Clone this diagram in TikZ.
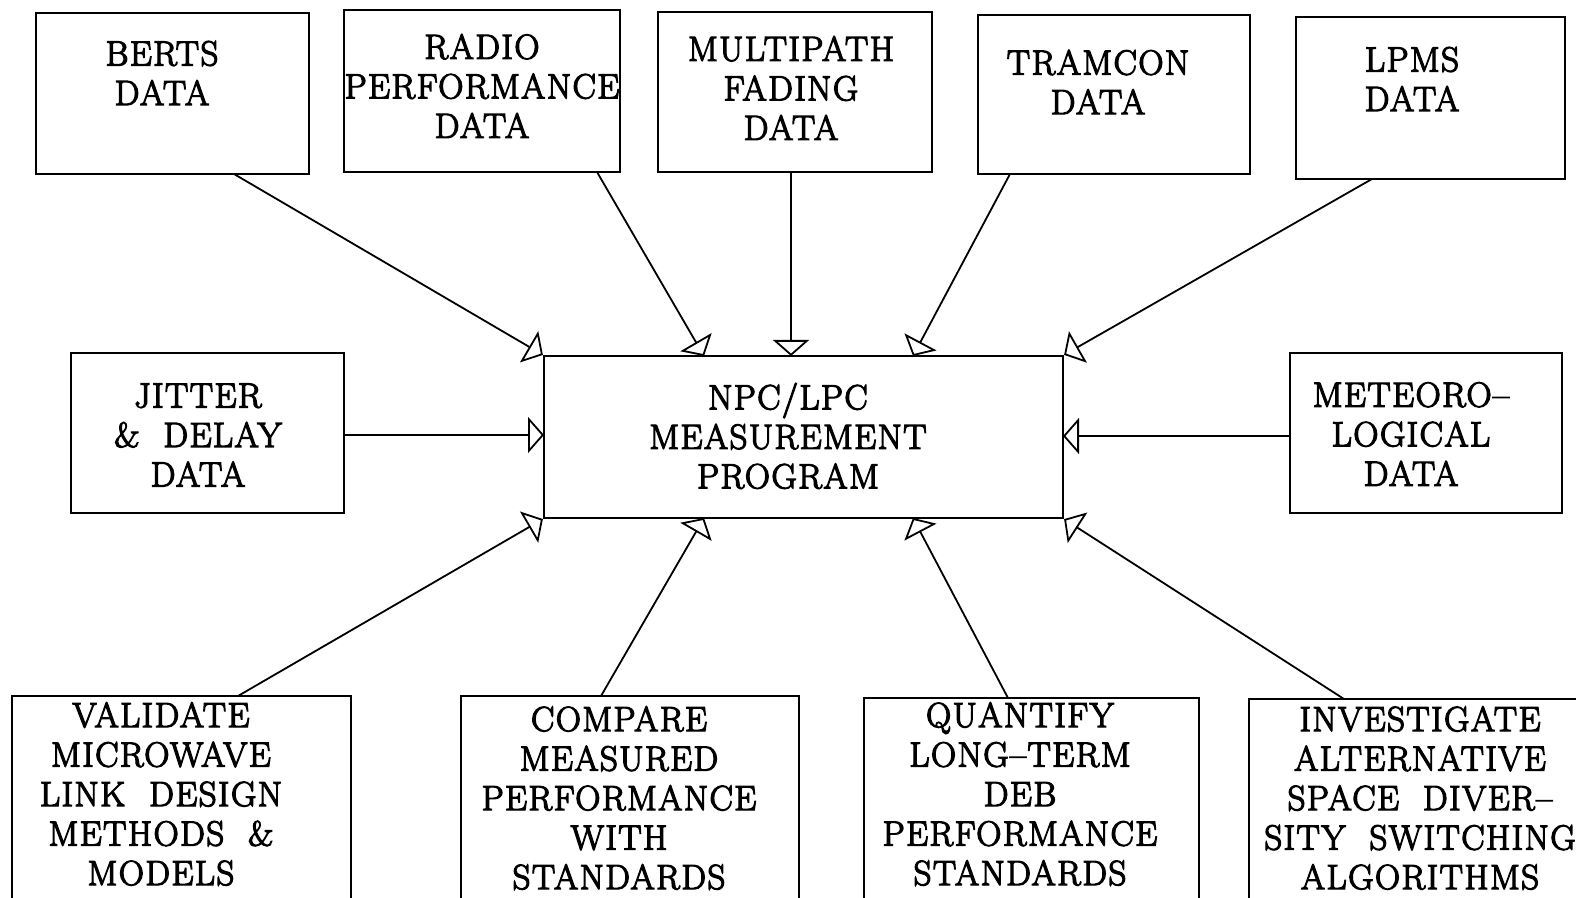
\documentclass[tikz,border=0pt]{standalone}
\usepackage{fontspec}
\setmainfont{Latin Modern Roman}[LetterSpace=4,WordSpace=2,FakeBold=3.5]
\usetikzlibrary{arrows.meta,fit}

\begin{document}
\begin{tikzpicture}[x=0.5pt,y=-0.5pt,
  box/.style={draw,line width=1.1pt,inner sep=0pt},
  lbl/.style={align=center,font=\fontsize{17.5}{19.75}\selectfont,inner sep=0pt},
  feed/.style={line width=0.9pt,-{Triangle[open,length=8pt,width=18pt]}}]
\useasboundingbox (0,0) rectangle (1576,898);
\clip (0,0) rectangle (1576,898);

% top row: data sources
\node[box,fit={(36,13) (309,174)}] (berts) {};
\node[lbl] (bertsT) at (162,73) {BERTS\\DATA};
\node[box,fit={(344,10) (620,172)}] (radio) {};
\node[lbl] (radioT) at (482,86) {RADIO\\PERFORMANCE\\DATA};
\node[box,fit={(658,12) (932,172)}] (multi) {};
\node[lbl] (multiT) at (791,88) {MULTIPATH\\FADING\\DATA};
\node[box,fit={(978,15) (1250,174)}] (tramcon) {};
\node[lbl] (tramconT) at (1098,82) {TRAMCON\\DATA};
\node[box,fit={(1296,17) (1565,179)}] (lpms) {};
\node[lbl] (lpmsT) at (1412,79) {LPMS\\DATA};

% middle row
\node[box,fit={(71,353) (344,513)}] (jitter) {};
\node[lbl] (jitterT) at (198,435) {JITTER\\\& DELAY\\DATA};
\node[box,fit={(544,356) (1063,518)}] (prog) {};
\node[lbl] (progT) at (788,436) {NPC/LPC\\MEASUREMENT\\PROGRAM};
\node[box,fit={(1290,353) (1562,513)}] (meteo) {};
\node[lbl] (meteoT) at (1411,434) {METEORO–\\LOGICAL\\DATA};

% bottom row: objectives
\node[box,fit={(12,696) (351,910)}] (valid) {};
\node[lbl] (validT) at (161,794) {VALIDATE\\MICROWAVE\\LINK DESIGN\\METHODS \&\\MODELS};
\node[box,fit={(461,696) (799,910)}] (compare) {};
\node[lbl] (compareT) at (619,798) {COMPARE\\MEASURED\\PERFORMANCE\\WITH\\STANDARDS};
\node[box,fit={(864,698) (1199,910)}] (quant) {};
\node[lbl] (quantT) at (1020,794) {QUANTIFY\\LONG–TERM\\DEB\\PERFORMANCE\\STANDARDS};
\node[box,fit={(1249,699) (1590,910)}] (invest) {};
\node[lbl] (investT) at (1420,798) {INVESTIGATE\\ALTERNATIVE\\SPACE DIVER–\\SITY SWITCHING\\ALGORITHMS};

% connector end points on box edges
\coordinate (bertsO) at (234,174);
\coordinate (radioO) at (597,172);
\coordinate (multiO) at (791,172);
\coordinate (tramconO) at (1010,174);
\coordinate (lpmsO) at (1372,179);
\coordinate (validO) at (238,696);
\coordinate (compareO) at (601,696);
\coordinate (quantO) at (1008,698);
\coordinate (investO) at (1344,699);
\coordinate (progNa) at (704,356);
\coordinate (progNb) at (791,356);
\coordinate (progNc) at (913,356);
\coordinate (progSa) at (704,518);
\coordinate (progSb) at (913,518);
\coordinate (jitterO) at (344,435);
\coordinate (meteoO) at (1290,436);
\coordinate (progW) at (544,435);
\coordinate (progE) at (1063,436);

\draw[feed] (bertsO) -- (prog.north west);
\draw[feed] (radioO) -- (progNa);
\draw[feed] (multiO) -- (progNb);
\draw[feed] (tramconO) -- (progNc);
\draw[feed] (lpmsO) -- (prog.north east);
\draw[feed] (jitterO) -- (progW);
\draw[feed] (meteoO) -- (progE);
\draw[feed] (validO) -- (prog.south west);
\draw[feed] (compareO) -- (progSa);
\draw[feed] (quantO) -- (progSb);
\draw[feed] (investO) -- (prog.south east);
\end{tikzpicture}
\end{document}
